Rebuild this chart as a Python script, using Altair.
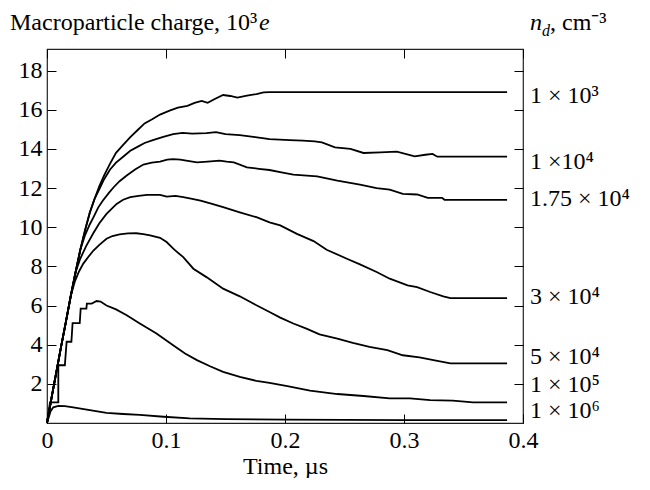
import altair as alt
import pandas as pd

FONT = "Liberation Serif"

# labels of the curves (dust density n_d, cm^-3) and where they sit (data units)
labels = ["1 × 10³", "1 ×10⁴", "1.75 × 10⁴", "3 × 10⁴", "5 × 10⁴", "1 × 10⁵", "1 × 10⁶"]
label_y = [16.7, 13.35, 11.45, 6.42, 3.36, 1.94, 0.61]

x_ticks = [0, 0.1, 0.2, 0.3, 0.4]
y_ticks = [2, 4, 6, 8, 10, 12, 14, 16, 18]

# time (us) / charge (10^3 e) for each curve
t_1e3 = [0, 0.004, 0.008, 0.012, 0.016, 0.020, 0.024, 0.028, 0.032, 0.036,
         0.040, 0.044, 0.048, 0.053, 0.058, 0.064, 0.070, 0.076, 0.082, 0.088,
         0.095, 0.103, 0.110, 0.118, 0.124, 0.130, 0.135, 0.141, 0.148, 0.154,
         0.160, 0.168, 0.176, 0.182, 0.187, 0.3866]
q_1e3 = [0, 1.35, 2.65, 3.95, 5.2, 6.5, 7.7, 8.85, 9.85, 10.75,
         11.45, 12.1, 12.65, 13.25, 13.8, 14.2, 14.6, 14.95, 15.3, 15.5,
         15.75, 15.95, 16.1, 16.2, 16.35, 16.45, 16.35, 16.55, 16.75, 16.7,
         16.62, 16.72, 16.8, 16.88, 16.9, 16.9]

t_1e4 = [0, 0.004, 0.008, 0.012, 0.016, 0.020, 0.024, 0.028, 0.032, 0.036,
         0.040, 0.044, 0.048, 0.053, 0.058, 0.064, 0.070, 0.076, 0.082, 0.089,
         0.097, 0.106, 0.114, 0.122, 0.134, 0.142, 0.150, 0.162, 0.175, 0.187,
         0.204, 0.215, 0.225, 0.231, 0.242, 0.255, 0.266, 0.280, 0.294, 0.309,
         0.318, 0.324, 0.328, 0.3866]
q_1e4 = [0, 1.35, 2.65, 3.95, 5.2, 6.5, 7.7, 8.85, 9.85, 10.75,
         11.45, 11.95, 12.45, 12.95, 13.3, 13.6, 13.9, 14.1, 14.3, 14.45,
         14.6, 14.75, 14.82, 14.78, 14.8, 14.85, 14.75, 14.7, 14.6, 14.5,
         14.45, 14.42, 14.38, 14.33, 14.08, 14.0, 13.79, 13.82, 13.86, 13.62,
         13.7, 13.74, 13.6, 13.6]

t_175e4 = [0, 0.004, 0.008, 0.012, 0.016, 0.020, 0.024, 0.028,
           0.032, 0.036, 0.039, 0.043, 0.047, 0.052, 0.056, 0.061, 0.067, 0.074,
           0.081, 0.088, 0.095, 0.101, 0.106, 0.112, 0.117, 0.126, 0.135, 0.145,
           0.151, 0.157, 0.168, 0.178, 0.187, 0.197, 0.207, 0.227, 0.244, 0.263,
           0.277, 0.288, 0.299, 0.311, 0.320, 0.332, 0.334, 0.3866]
q_175e4 = [0, 1.35, 2.65, 3.95, 5.2, 6.5, 7.7, 8.85,
           9.6, 10.15, 10.5, 11.0, 11.36, 11.75, 12.04, 12.35, 12.64, 12.95,
           13.2, 13.3, 13.35, 13.45, 13.48, 13.45, 13.4, 13.31, 13.35, 13.4,
           13.35, 13.31, 13.06, 12.98, 12.92, 12.8, 12.68, 12.6, 12.38, 12.17,
           12.0, 11.92, 11.7, 11.67, 11.5, 11.5, 11.4, 11.4]

t_3e4 = [0, 0.004, 0.008, 0.012, 0.016, 0.020, 0.024,
         0.028, 0.033, 0.039, 0.044, 0.050, 0.0585, 0.064, 0.070, 0.077, 0.084,
         0.095, 0.1006, 0.108, 0.1145, 0.122, 0.129, 0.138, 0.148, 0.162, 0.176,
         0.187, 0.196, 0.210, 0.224, 0.235, 0.252, 0.263, 0.277, 0.288, 0.303,
         0.311, 0.322, 0.333, 0.339, 0.3866]
q_3e4 = [0, 1.35, 2.65, 3.95, 5.2, 6.5, 7.7,
         8.4, 9.05, 9.7, 10.2, 10.68, 11.19, 11.4, 11.53, 11.6, 11.65,
         11.65, 11.56, 11.6, 11.53, 11.45, 11.36, 11.2, 11.02, 10.76, 10.51,
         10.25, 10.09, 9.66, 9.29, 8.85, 8.39, 8.1, 7.71, 7.37, 7.03,
         6.94, 6.69, 6.47, 6.38, 6.38]

t_5e4 = [0, 0.004, 0.008, 0.012, 0.016, 0.020,
         0.0235, 0.027, 0.0305, 0.035, 0.039, 0.044, 0.050, 0.055, 0.061, 0.068,
         0.075, 0.081, 0.0866, 0.095, 0.1005, 0.107, 0.1145, 0.123, 0.134, 0.148,
         0.162, 0.176, 0.187, 0.196, 0.207, 0.218, 0.229, 0.244, 0.257, 0.271,
         0.286, 0.299, 0.313, 0.328, 0.339, 0.3866]
q_5e4 = [0, 1.35, 2.65, 3.95, 5.2, 6.5,
         7.25, 7.75, 8.14, 8.5, 8.81, 9.1, 9.41, 9.55, 9.63, 9.68,
         9.69, 9.65, 9.58, 9.46, 9.24, 8.85, 8.47, 7.88, 7.45, 6.86,
         6.47, 6.01, 5.67, 5.38, 5.08, 4.82, 4.53, 4.31, 4.09, 3.89,
         3.72, 3.46, 3.35, 3.17, 3.04, 3.04]

t_1e5 = [0, 0.0025, 0.0095, 0.0095, 0.015, 0.0165, 0.0205, 0.0215, 0.0275, 0.0283,
         0.0331, 0.0335, 0.0376, 0.0417, 0.045, 0.050, 0.058, 0.067, 0.078, 0.092,
         0.106, 0.116, 0.126, 0.137, 0.148, 0.162, 0.176, 0.187, 0.202, 0.221,
         0.244, 0.266, 0.288, 0.305, 0.322, 0.341, 0.358, 0.3866]
q_1e5 = [0, 1.05, 1.05, 2.95, 2.95, 4.15, 4.15, 5.1, 5.1, 5.84,
         5.84, 6.1, 6.1, 6.23, 6.2, 6.0, 5.8, 5.5, 5.08, 4.57,
         3.97, 3.55, 3.21, 2.9, 2.61, 2.35, 2.15, 2.05, 1.88, 1.65,
         1.48, 1.38, 1.26, 1.26, 1.17, 1.14, 1.05, 1.05]

t_1e6 = [0, 0.003, 0.0053, 0.0095, 0.015, 0.022, 0.036, 0.050, 0.064, 0.078,
         0.098, 0.120, 0.150, 0.200, 0.250, 0.300, 0.3866]
q_1e6 = [0, 0.6, 0.8, 0.87, 0.86, 0.8, 0.66, 0.52, 0.46, 0.41,
         0.32, 0.24, 0.2, 0.17, 0.16, 0.15, 0.15]

series = [(t_1e3, q_1e3), (t_1e4, q_1e4), (t_175e4, q_175e4), (t_3e4, q_3e4),
          (t_5e4, q_5e4), (t_1e5, q_1e5), (t_1e6, q_1e6)]

rows = []
for k, (ts, qs) in enumerate(series):
    for i, (t, q) in enumerate(zip(ts, qs)):
        rows.append({"series": labels[k], "i": i, "t": t, "q": q})
df = pd.DataFrame(rows)
lab_df = pd.DataFrame({"label": labels, "y": label_y})

W, H = 476, 374
xs = alt.Scale(domain=[0, 0.4], nice=False, zero=False)
ys = alt.Scale(domain=[0, 19.1], nice=False, zero=False)

tick_only = dict(labels=False, domain=False, grid=False, ticks=True, tickSize=9,
                 tickColor="black", tickWidth=1, title=None)

lines = alt.Chart(df).mark_line(color="black", strokeWidth=1.8).encode(
    x=alt.X("t:Q", scale=xs,
            axis=alt.Axis(orient="bottom", values=x_ticks, format="~g", ticks=False,
                          domain=False, grid=False, labelPadding=5, labelFlush=False,
                          title="Time, µs", titlePadding=2)),
    y=alt.Y("q:Q", scale=ys,
            axis=alt.Axis(orient="left", values=y_ticks, format="d", ticks=False,
                          domain=False, grid=False, labelPadding=5, title=None)),
    detail="series:N",
    order="i:Q",
)

ticks_a = alt.Chart(df).mark_point(opacity=0).encode(
    x=alt.X("t:Q", scale=xs, axis=alt.Axis(orient="top", offset=-H, values=x_ticks, **tick_only)),
    y=alt.Y("q:Q", scale=ys, axis=alt.Axis(orient="right", offset=-W, values=y_ticks, **tick_only)),
)
ticks_b = alt.Chart(df).mark_point(opacity=0).encode(
    x=alt.X("t:Q", scale=xs, axis=alt.Axis(orient="bottom", offset=-H, values=x_ticks, **tick_only)),
    y=alt.Y("q:Q", scale=ys, axis=alt.Axis(orient="left", offset=-W, values=y_ticks, **tick_only)),
)

curve_labels = alt.Chart(lab_df).mark_text(
    align="left", baseline="middle", font=FONT, fontSize=24, color="black"
).encode(
    x=alt.value(W + 7),
    y=alt.Y("y:Q", scale=ys, axis=None),
    text="label:N",
)

one = alt.Data(values=[{"a": 1}])


def note(s, x, y, size=24, style="normal"):
    return alt.Chart(one).mark_text(
        text=s, align="left", baseline="alphabetic", font=FONT,
        fontSize=size, fontStyle=style, color="black"
    ).encode(x=alt.value(x), y=alt.value(y))


titles = [
    note("Macroparticle charge, 10³", -37, -19, 24),
    note("e", 212, -19, 24, "italic"),
    note("n", 483, -19, 24, "italic"),
    note("d", 495, -13, 16, "italic"),
    note(", cm⁻³", 503, -19, 24),
]

chart = alt.layer(lines, ticks_a, ticks_b, curve_labels, *titles).resolve_axis(
    x="independent", y="independent"
).properties(
    width=W, height=H,
    autosize=alt.AutoSizeParams(type="none"),
    padding={"left": 39, "top": 41, "right": 119, "bottom": 55},
).configure_view(
    stroke="#222", strokeWidth=1.2
).configure_axis(
    labelFont=FONT, labelFontSize=24, labelColor="black",
    titleFont=FONT, titleFontSize=24, titleFontWeight="normal", titleColor="black",
)

chart.save("out.html", embed_options={"renderer": "svg", "actions": False})
